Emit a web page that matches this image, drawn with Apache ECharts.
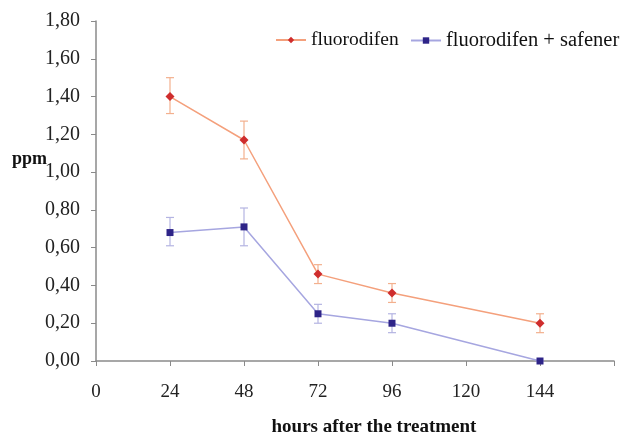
<!DOCTYPE html>
<html>
<head>
<meta charset="utf-8">
<script src="https://cdn.jsdelivr.net/npm/echarts@6/dist/echarts.min.js"></script>
<style>
  html, body { margin: 0; padding: 0; background: #fff; }
  #chart { width: 640px; height: 437px; }
</style>
</head>
<body>
<div id="chart"></div>
<script>
// hours after treatment
const hours = [24, 48, 72, 96, 144]
const xTicks = [0, 24, 48, 72, 96, 120, 144, 168]

// fluorodifen
const fluoro = [1.40, 1.17, 0.46, 0.36, 0.20]
const fluoroLow = [1.31, 1.07, 0.41, 0.31, 0.15]
const fluoroHigh = [1.50, 1.27, 0.51, 0.41, 0.25]

// fluorodifen + safener
const safener = [0.68, 0.71, 0.25, 0.20, 0.00]
const safenerLow = [0.61, 0.61, 0.20, 0.15, 0.00]
const safenerHigh = [0.76, 0.81, 0.30, 0.25, 0.00]

const font = 'Liberation Serif'
const axisColor = '#8a8a8a'

function pairs(xs, ys) {
  return xs.map((x, i) => [x, ys[i]])
}

function errorSeries(low, high, color) {
  return {
    type: 'custom',
    silent: true,
    z: 1,
    data: hours.map((h, i) => [h, low[i], high[i]]),
    renderItem(params, api) {
      const lo = api.coord([api.value(0), api.value(1)])
      const hi = api.coord([api.value(0), api.value(2)])
      const w = 4
      const style = { stroke: color, lineWidth: 1.2 }
      return {
        type: 'group',
        children: [
          { type: 'line', shape: { x1: lo[0], y1: lo[1], x2: hi[0], y2: hi[1] }, style },
          { type: 'line', shape: { x1: hi[0] - w, y1: hi[1], x2: hi[0] + w, y2: hi[1] }, style },
          { type: 'line', shape: { x1: lo[0] - w, y1: lo[1], x2: lo[0] + w, y2: lo[1] }, style },
        ],
      }
    },
  }
}

function legendAt(left, name, size) {
  return {
    left,
    top: 25,
    itemWidth: 30,
    itemHeight: 8,
    data: [name],
    textStyle: { fontFamily: font, fontSize: size, color: '#111' },
  }
}

const chart = echarts.init(document.getElementById('chart'))
chart.setOption({
  animation: false,
  textStyle: { fontFamily: font },
  grid: { left: 96, right: 26, top: 21, bottom: 76, outerBoundsMode: 'none' },
  legend: [legendAt(270, 'fluorodifen', 19.5), legendAt(405, 'fluorodifen + safener', 20.5)],
  graphic: [
    {
      type: 'text',
      left: 12,
      top: 150,
      style: { text: 'ppm', font: 'bold 18px "Liberation Serif"', fill: '#111' },
    },
  ],
  xAxis: {
    type: 'value',
    min: xTicks[0],
    max: xTicks[xTicks.length - 1],
    interval: 24,
    name: 'hours after the treatment',
    nameLocation: 'middle',
    nameGap: 57,
    nameTextStyle: { fontFamily: font, fontSize: 19, fontWeight: 'bold', color: '#111', padding: [0, 0, 0, 38] },
    axisLine: { lineStyle: { color: axisColor, width: 1.5 } },
    axisTick: { length: 5, lineStyle: { color: axisColor } },
    splitLine: { show: false },
    axisLabel: {
      margin: 22,
      fontSize: 19,
      color: '#222',
      formatter: v => (v === 168 ? '' : String(v)),
    },
  },
  yAxis: {
    type: 'value',
    min: 0,
    max: 1.8,
    interval: 0.2,
    axisLine: { show: true, lineStyle: { color: axisColor, width: 1.5 } },
    axisTick: { show: true, length: 5, lineStyle: { color: axisColor } },
    splitLine: { show: false },
    axisLabel: {
      margin: 16,
      fontSize: 20,
      color: '#222',
      formatter: v => v.toFixed(2).replace('.', ','),
    },
  },
  series: [
    errorSeries(fluoroLow, fluoroHigh, '#f3b08e'),
    errorSeries(safenerLow, safenerHigh, '#b4b4e2'),
    {
      name: 'fluorodifen',
      type: 'line',
      z: 3,
      data: pairs(hours, fluoro),
      symbol: 'diamond',
      symbolSize: 9,
      lineStyle: { color: '#f4a07c', width: 1.5 },
      itemStyle: { color: '#cf2d2d' },
    },
    {
      name: 'fluorodifen + safener',
      type: 'line',
      z: 3,
      data: pairs(hours, safener),
      symbol: 'rect',
      symbolSize: 7,
      lineStyle: { color: '#a6a6e0', width: 1.5 },
      itemStyle: { color: '#2e2488' },
    },
  ],
})
</script>
</body>
</html>
